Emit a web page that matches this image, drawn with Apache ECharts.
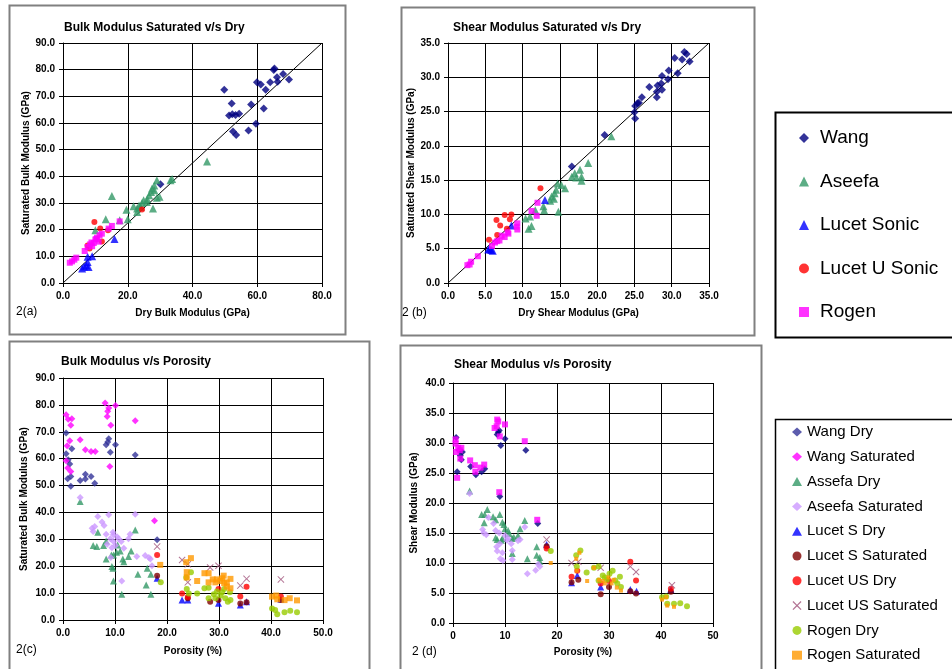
<!DOCTYPE html>
<html><head><meta charset="utf-8">
<script src="https://cdn.jsdelivr.net/npm/echarts@6/dist/echarts.min.js"></script>
<style>html,body{margin:0;padding:0;background:#fff}#c{width:952px;height:669px}</style>
</head><body><div id="c"></div>
<script>
// ---------- Panel (a): Bulk modulus saturated vs dry ----------
const aWang = [[49.8,72.5],[52.1,67.3],[51.3,62.8],[52.3,63.3],[53.3,63],[54.4,63.5],[52.5,56.8],[53.5,55.5],[57.3,57.2],[59.6,59.7],[58.1,66.9],[59.9,75.3],[61.1,74.4],[62,65.4],[62.6,72.5],[64,75.3],[65.3,80.4],[65.1,79.9],[66.1,77.2],[66.3,75.5],[68,78.4],[69.8,76.3],[30.1,37]];
const aAseefa = [[44.5,45.6],[33.7,39],[33.2,38.5],[29,38.5],[28.2,36.6],[27.5,35.4],[28.2,34.8],[27.2,34.1],[26.6,32.9],[29.8,32.3],[29,32],[15.1,32.6],[27.8,27.9],[25.9,30.4],[24.9,31],[24.4,30],[23.5,29.1],[22.9,27.9],[21.8,28.8],[22.9,26.6],[19.6,27.5],[20,23.9],[17.5,23.5],[13.2,23.9],[10,19.8],[26,31.5],[24,28.5]];
const aLucetS = [[15.9,16.5],[9,10],[7.6,9.8],[7.6,7.9],[7.2,6.6],[7.9,6],[5.9,5.4],[6.5,6.2]];
const aLucetU = [[9.7,22.9],[11.5,20.4],[12,15.6],[7.6,14.1],[8.2,12.9],[13.9,19.8],[24.4,27.6]];
const aRogen = [[17.5,23.1],[15.1,21.4],[14.1,20.4],[11.3,17.9],[10.5,17],[10,16.3],[9.5,15],[8.4,14.5],[7.6,13.5],[6.7,12],[4.1,9.5],[3.5,8.75],[2.8,8.1],[2.1,7.6],[9,13.8],[10.3,16.5],[12,18.5],[11,15.5],[8.8,15.2]];
const aRefLine = [[0,0],[80,90]];

// ---------- Panel (b): Shear modulus saturated vs dry ----------
const bWang = [[21,21.6],[16.6,17],[25,24.9],[25.1,24],[25.1,25.8],[25.4,26.2],[26,27.1],[27,28.6],[28,27.9],[28,27.1],[28.1,28.8],[28.6,29.1],[28.7,28.2],[28.7,30.2],[29.5,29.7],[29.6,31],[30.8,30.6],[30.4,32.8],[31.4,32.6],[31.7,33.7],[32,33.4],[32.4,32.3],[25.6,26.3]];
const bAseefa = [[21.9,21.4],[18.8,17.5],[17.7,16.5],[17,16],[16.6,15.5],[17.9,15.5],[17.9,14.9],[15.7,13.8],[15.2,14.3],[14.7,14.5],[14.5,13.6],[14.3,13.1],[13.9,12.6],[13.7,12],[14.8,10.4],[12.8,11.2],[12.9,10.6],[11.7,10.6],[11,9.7],[10.4,9.4],[11.2,8.3],[10.8,7.9],[14.2,12.3],[17.2,15.4]];
const bLucetS = [[13,12.1],[8.5,8.4],[5.4,4.9],[5.8,4.8],[6,4.7],[5.6,5]];
const bLucetU = [[12.4,13.8],[8.5,10],[7.6,9.9],[6.5,9.2],[8.3,9.3],[7,8.4],[7.9,7.9],[6.6,7],[5.5,6.3]];
const bRogen = [[12,11.7],[11.2,10.5],[11.9,9.8],[9.3,8.7],[9.3,7.8],[8.1,7.2],[7.6,6.7],[6.9,6.2],[6.3,5.9],[5.9,5.4],[4,3.9],[3.1,3.1],[2.9,2.7],[2.6,2.6],[7.2,6.9],[8,7.4],[6.6,6.1],[9.2,8.2]];
const bRefLine = [[0,0],[35,35]];

// ---------- Panel (c): Bulk modulus vs porosity ----------
const cWangDry = [[0.6,69.5],[0.6,61.8],[1,59.6],[1.3,58],[0.9,52.5],[1.5,53.4],[1.5,49.7],[1.7,63.7],[3.3,51.9],[4.3,52.4],[4.3,54.2],[5.4,53.4],[6.1,50.9],[8.3,65.2],[8.6,66.2],[8.8,67.4],[9.1,62.4],[10.1,65.2],[13.9,61.4],[18.1,29.8]];
const cWangSat = [[0.6,76.3],[1,74.7],[1.7,74.8],[1.5,72.4],[1.3,66.7],[0.8,64.8],[0.6,59.2],[0.9,56.5],[1.5,55.2],[3.3,67],[4.3,63.3],[5.4,62.7],[6.2,62.7],[8.1,80.7],[8.6,77.6],[8.8,78.8],[8.5,75.7],[9.2,72.4],[10.1,79.8],[9,57.1],[13.9,74.1],[17.6,36.9]];
const cAseefaDry = [[3.3,44.1],[6.7,32.6],[5.8,27.7],[6.5,27.3],[7.8,27.7],[8.3,29.4],[8.3,22.7],[9.3,24.2],[9.4,19.9],[9.6,19.2],[9.7,14.5],[10.3,25.2],[10.5,27.9],[11,25.7],[11.7,21.7],[11.5,22.7],[11.3,9.6],[12.6,23.6],[13.1,25.7],[13.9,33.5],[14.4,17],[16,13],[16.2,19.2],[16.9,17],[16.9,9.6],[9.7,24.2]];
const cAseefaSat = [[3.3,45.6],[5.6,34.1],[6.1,34.8],[6.7,38.5],[5.8,32.9],[7.5,36.4],[7.9,35.1],[8.3,31.9],[8.8,39.1],[8.5,28.2],[9.6,32.6],[9.7,31.7],[9.1,30.2],[9.7,29.2],[10.1,27.7],[9.4,26.9],[10.4,31],[10.7,30.2],[11.2,29.2],[11.7,26.7],[12.6,30.2],[12.9,31.9],[13.9,39.3],[14.2,23.6],[15.8,24],[16.5,23.2],[16.8,22.7],[17.1,20.2],[11.3,14.5],[9.2,23.2]];
const cLucetSDry = [[18.1,15.5],[22.9,7.4],[24,7.4],[29.9,6.2],[34.1,5.6],[35.3,6.8],[41.9,7.7]];
const cLucetSSat = [[18.1,16.5],[24,8.1],[28.3,6.8],[29.9,7.4],[34.1,6.1],[35.3,6.6],[41.9,7.4]];
const cLucetUSDry = [[18.1,24.2],[22.9,9.9],[24,8.6],[29.9,11.5],[34.1,8.7],[35.3,12.4],[41.9,8.7]];
const cLucetUSSat = [[18.1,27.3],[22.9,22.3],[24,20.7],[24,14],[28.3,19.5],[29.9,20.2],[34.1,12.8],[35.3,15.3],[41.9,15.1]];
const cRogenDry = [[18.8,14],[23.7,15.8],[23.8,11.5],[24.2,9.9],[24.6,17.8],[25.8,9.9],[27.2,11.8],[28,12],[28,8.1],[29,9.6],[29.3,8.1],[29.6,10.6],[30.3,9.1],[30.6,10.3],[31,11.5],[31.2,8.1],[31.7,6.8],[32.2,7.4],[32.1,10.3],[40.2,4.3],[40.8,3.7],[41.2,2.1],[42.6,2.9],[43.7,3.4],[45,2.9]];
const cRogenSat = [[18.7,20.5],[23.7,21.5],[24.6,23],[23.8,17.8],[23.8,15.8],[25.8,14.5],[27.2,17.4],[28,17.4],[28,14],[28.8,15.1],[29.3,14],[29.6,15.1],[30.3,14.5],[30.6,15.5],[30.9,16.5],[31,13.7],[31.5,14],[31.5,12.4],[32.2,15.3],[32.2,11.8],[40.2,8.7],[41,9.1],[41.2,7.7],[42.6,7.4],[43.6,8.1],[45,7.3]];

// ---------- Panel (d): Shear modulus vs porosity ----------
const dWangDry = [[0.6,30.9],[0.8,25.2],[1.2,28.8],[1.4,27.9],[1.8,28.5],[1.6,27.2],[3.4,26.1],[4.4,24.7],[5.5,25.2],[6.1,25.7],[8.5,31.4],[8.7,31.8],[8.9,32.1],[9.2,29.6],[10,30.7],[9,21.1],[14,28.8],[16.3,16.6]];
const dWangSat = [[0.5,30.6],[0.5,29.9],[0.6,28.5],[1,29.2],[1.3,28.8],[1.6,29.2],[1.4,27.4],[0.8,24.2],[3.3,27.1],[4.2,26.3],[4.3,25.2],[5.3,25.9],[6,26.4],[8,32.5],[8.4,32.8],[8.5,33.9],[8.7,33.6],[9,31.1],[10,33.1],[8.9,21.8],[13.8,30.3],[16.2,17.2]];
const dAseefaDry = [[3.2,22],[5.5,18.1],[6.1,18.1],[6,16.7],[6.6,18.9],[7.7,17.7],[8.2,17.2],[8.2,14.2],[8.5,13.9],[9,18.1],[9.5,16.8],[9.8,16.4],[10,15.7],[9.5,14.1],[9.3,13.8],[10.6,15.4],[10.8,14.9],[11.4,14.1],[11.7,14.3],[11.4,11.6],[12.5,14.6],[12.9,15.7],[13.8,17.1],[14.3,10.7],[16.1,12.7],[16.1,11.3],[16.7,10.9],[16.7,10.3]];
const dAseefaSat = [[3.2,21.6],[5.7,15.6],[5.9,15],[6.4,14.7],[6.8,17.6],[7.8,16.6],[8.2,15.4],[8.4,12.7],[8.5,12],[8.9,15],[9,13.2],[9.1,10.7],[9.6,10.4],[9.5,11.7],[10,14.6],[10.4,13.8],[10.6,14.1],[11.2,13.2],[11.4,12.1],[11.4,10.6],[12.5,13.7],[12.9,13.9],[13.8,16],[14.3,8.2],[15.9,8.8],[16.4,9.8],[16.7,9.4]];
const dLucetSDry = [[18,13.1],[22.8,6.7],[23.9,7.9],[28.4,6],[34.1,5.6],[35.3,5.3],[41.9,5.6]];
const dLucetSSat = [[18,12.8],[22.8,6.8],[24.1,7.2],[28.4,4.8],[30,6],[34.1,5.3],[35.2,4.9],[41.9,5.2]];
const dLucetUSDry = [[18,12.4],[22.8,7.7],[23.9,8.7],[28.4,6.6],[30,7],[34.1,10.2],[35.2,7.1],[41.9,5.7]];
const dLucetUSSat = [[18,13.9],[22.8,10],[24.1,10.2],[28.4,9.2],[34.1,9.4],[35.2,8.5],[42.1,6.3]];
const dRogenDry = [[18.8,12],[23.7,11.3],[23.8,9.4],[24.5,12.1],[25.7,8.4],[27.1,9.2],[28,9.4],[28,7.1],[28.8,7.9],[29.2,7.6],[29.6,7.2],[30.1,8.2],[30.7,8.7],[31.2,7.1],[31.6,6.6],[32.1,7.7],[32.3,6],[40.2,4.3],[41,4.4],[41.2,3.2],[42.5,3.2],[43.7,3.3],[45,2.8]];
const dRogenSat = [[18.8,10],[23.7,10.7],[24.3,11.7],[23.8,8.7],[25.8,7],[27.1,9.2],[28.1,7.2],[28.8,7],[29.2,6.6],[29.9,7.6],[30.5,6.6],[30.9,7.2],[31.5,5.9],[32.3,5.4],[40.2,3.9],[41,4.3],[41.2,2.9],[42.5,2.7]];

// ---------- Text ----------
const titles = ['Bulk Modulus Saturated v/s Dry','Shear Modulus Saturated v/s Dry','Bulk Modulus v/s Porosity','Shear Modulus v/s Porosity'];
const xNames = ['Dry Bulk Modulus (GPa)','Dry Shear Modulus (GPa)','Porosity (%)','Porosity (%)'];
const yNames = ['Saturated Bulk Modulus (GPa)','Saturated Shear Modulus (GPa)','Saturated Bulk Modulus (GPa)','Shear Modulus (GPa)'];
const panelTags = ['2(a)','2 (b)','2(c)','2 (d)'];
const legend1Names = ['Wang','Aseefa','Lucet Sonic','Lucet U Sonic','Rogen'];
const legend2Names = ['Wang Dry','Wang Saturated','Assefa Dry','Aseefa Saturated','Lucet S Dry','Lucet S Saturated','Lucet US Dry','Lucet US Saturated','Rogen Dry','Rogen Saturated'];

const FONT = '"Liberation Sans", Arial, sans-serif';
const X_PATH = 'path://M1,0 L5,4 L9,0 L10,1 L6,5 L10,9 L9,10 L5,6 L1,10 L0,9 L4,5 L0,1 Z';

const grids = [
  {left:63, top:43, width:259, height:240},
  {left:448, top:43, width:261, height:240},
  {left:63, top:378, width:260, height:242},
  {left:453, top:383, width:260, height:240}
];
const xCfg = [
  {max:80, interval:20, dec:1, nameGap:25},
  {max:35, interval:5, dec:1, nameGap:25},
  {max:50, interval:10, dec:1, nameGap:26},
  {max:50, interval:10, dec:0, nameGap:24}
];
const yCfg = [
  {max:90, interval:10, dec:1, nameGap:32},
  {max:35, interval:5, dec:1, nameGap:32},
  {max:90, interval:10, dec:1, nameGap:34},
  {max:40, interval:5, dec:1, nameGap:34}
];

function axisCommon(c, name, nameGap) {
  return {
    type:'value', min:0, max:c.max, interval:c.interval,
    name:name, nameLocation:'middle', nameGap:nameGap,
    nameTextStyle:{fontFamily:FONT, fontWeight:'bold', fontSize:10, color:'#000'},
    axisLine:{show:true, lineStyle:{color:'#000', width:1}},
    axisTick:{show:true, length:4, lineStyle:{color:'#000'}},
    splitLine:{show:true, lineStyle:{color:'#000', width:1}},
    axisLabel:{fontFamily:FONT, fontWeight:'bold', fontSize:10, color:'#000', margin:8,
      formatter: v => v.toFixed(c.dec)}
  };
}

const xAxis = xCfg.map((c,i) => Object.assign(axisCommon(c, xNames[i], c.nameGap), {gridIndex:i}));
const yAxis = yCfg.map((c,i) => Object.assign(axisCommon(c, yNames[i], c.nameGap), {gridIndex:i}));

function sc(name, data, idx, symbol, color, size) {
  return {
    type:'scatter', name:name, data:data, xAxisIndex:idx, yAxisIndex:idx,
    symbol:symbol, symbolSize:size, itemStyle:{color:color}
  };
}
function ref(data, idx) {
  return {type:'line', data:data, xAxisIndex:idx, yAxisIndex:idx, symbol:'none', silent:true,
    lineStyle:{color:'#000', width:1}, z:1};
}

const series = [
  ref(aRefLine,0),
  sc('Wang', aWang, 0, 'diamond', '#000080', 8),
  sc('Aseefa', aAseefa, 0, 'triangle', '#339966', 8),
  sc('Lucet Sonic', aLucetS, 0, 'triangle', '#0000FF', 8),
  sc('Lucet U Sonic', aLucetU, 0, 'circle', '#FF0000', 6),
  sc('Rogen', aRogen, 0, 'rect', '#FF00FF', 6),
  ref(bRefLine,1),
  sc('Wang', bWang, 1, 'diamond', '#000080', 8),
  sc('Aseefa', bAseefa, 1, 'triangle', '#339966', 8),
  sc('Lucet Sonic', bLucetS, 1, 'triangle', '#0000FF', 8),
  sc('Lucet U Sonic', bLucetU, 1, 'circle', '#FF0000', 6),
  sc('Rogen', bRogen, 1, 'rect', '#FF00FF', 6),

  sc('Wang Dry', cWangDry, 2, 'diamond', '#333399', 7),
  sc('Wang Saturated', cWangSat, 2, 'diamond', '#FF00FF', 7),
  sc('Assefa Dry', cAseefaDry, 2, 'triangle', '#339966', 7),
  sc('Aseefa Saturated', cAseefaSat, 2, 'diamond', '#CC99FF', 7),
  sc('Lucet S Dry', cLucetSDry, 2, 'triangle', '#0000FF', 7),
  sc('Lucet S Saturated', cLucetSSat, 2, 'circle', '#800000', 6),
  sc('Lucet US Dry', cLucetUSDry, 2, 'circle', '#FF0000', 6),
  sc('Lucet US Saturated', cLucetUSSat, 2, X_PATH, '#A0527A', 7),
  sc('Rogen Dry', cRogenDry, 2, 'circle', '#99CC00', 6),
  sc('Rogen Saturated', cRogenSat, 2, 'rect', '#FF9900', 6),

  sc('Wang Dry', dWangDry, 3, 'diamond', '#000080', 7),
  sc('Wang Saturated', dWangSat, 3, 'rect', '#FF00FF', 6),
  sc('Assefa Dry', dAseefaDry, 3, 'triangle', '#339966', 7),
  sc('Aseefa Saturated', dAseefaSat, 3, 'diamond', '#CC99FF', 7),
  sc('Lucet S Dry', dLucetSDry, 3, 'triangle', '#0000FF', 7),
  sc('Lucet S Saturated', dLucetSSat, 3, 'circle', '#800000', 6),
  sc('Lucet US Dry', dLucetUSDry, 3, 'circle', '#FF0000', 6),
  sc('Lucet US Saturated', dLucetUSSat, 3, X_PATH, '#A0527A', 7),
  sc('Rogen Dry', dRogenDry, 3, 'circle', '#99CC00', 6),
  sc('Rogen Saturated', dRogenSat, 3, 'rect', '#FF9900', 4)
];

const titlePos = [[64,22],[453,22],[61,356],[454,359]];
const title = titles.map((t,i) => ({text:t, left:titlePos[i][0], top:titlePos[i][1], padding:0,
  textStyle:{fontFamily:FONT, fontWeight:'bold', fontSize:12, color:'#000'}}));

const frames = [[9,5,336,329],[401,7,353,328],[9,341,360,340],[400,345,361,340]];
const tagPos = [[16,306],[402,307],[16,644],[412,646]];
const graphic = [];
frames.forEach(f => graphic.push({type:'rect', shape:{x:f[0]+0.5,y:f[1]+0.5,width:f[2],height:f[3]},
  style:{fill:'none', stroke:'#808080', lineWidth:2}, silent:true}));
panelTags.forEach((t,i) => graphic.push({type:'text', x:tagPos[i][0], y:tagPos[i][1],
  style:{text:t, font:'12px ' + FONT, fill:'#000'}, silent:true}));
graphic.push({type:'rect', shape:{x:775.5,y:112.5,width:200,height:225}, style:{fill:'none', stroke:'#000', lineWidth:2}, silent:true});
graphic.push({type:'rect', shape:{x:775.5,y:419.5,width:200,height:270}, style:{fill:'none', stroke:'#000', lineWidth:1.5}, silent:true});

const legend = [
  {data:legend1Names, orient:'vertical', left:799, top:128, padding:0, itemWidth:10, itemHeight:10, itemGap:23.5,
   selectedMode:false, textStyle:{fontFamily:FONT, fontSize:19, color:'#000', lineHeight:20, padding:[0,0,0,6]}},
  {data:legend2Names, orient:'vertical', left:792, top:424, padding:0, itemWidth:10, itemHeight:9, itemGap:8.8,
   selectedMode:false, textStyle:{fontFamily:FONT, fontSize:15, color:'#000', lineHeight:16}}
];

const chart = echarts.init(document.getElementById('c'), null, {renderer:'canvas'});
chart.setOption({
  animation:false, backgroundColor:'#fff',
  title:title, grid:grids, xAxis:xAxis, yAxis:yAxis, series:series, legend:legend, graphic:graphic
});
</script></body></html>
